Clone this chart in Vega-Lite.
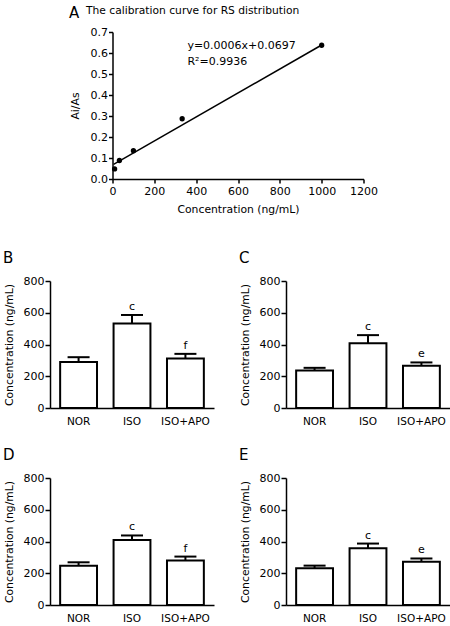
{
  "$schema": "https://vega.github.io/schema/vega-lite/v6.json",
  "padding": {"left": 3, "top": 5, "right": 2, "bottom": 2},
  "background": "white",
  "config": {
    "font": "DejaVu Sans",
    "view": {"stroke": null},
    "axis": {
      "domainColor": "black", "domainWidth": 1.5, "tickColor": "black", "tickWidth": 1.5, "tickSize": 4,
      "labelColor": "black", "titleColor": "black", "labelFont": "DejaVu Sans", "titleFont": "DejaVu Sans",
      "titleFontWeight": "normal", "grid": false, "labelFontSize": 11, "titleFontSize": 10.8, "labelOverlap": false, "labelFlush": false
    },
    "title": {"font": "DejaVu Sans", "fontWeight": "normal", "color": "black", "anchor": "start", "frame": "bounds", "fontSize": 15}
  },
  "datasets": {
    "cal": [
      {"conc": 10, "ratio": 0.048},
      {"conc": 33, "ratio": 0.088},
      {"conc": 100, "ratio": 0.135},
      {"conc": 333, "ratio": 0.287},
      {"conc": 1000, "ratio": 0.637}
    ],
    "fit": [
      {"conc": 5, "ratio": 0.07},
      {"conc": 1000, "ratio": 0.638}
    ],
    "eq": [
      {"conc": 358, "ratio": 0.619, "label": "y=0.0006x+0.0697"},
      {"conc": 358, "ratio": 0.543, "label": "R²=0.9936"}
    ],
    "bars": [
      {"panel": "B", "group": "NOR", "mean": 289, "err": 320, "sig": ""},
      {"panel": "B", "group": "ISO", "mean": 532, "err": 586, "sig": "c"},
      {"panel": "B", "group": "ISO+APO", "mean": 312, "err": 341, "sig": "f"},
      {"panel": "C", "group": "NOR", "mean": 237, "err": 253, "sig": ""},
      {"panel": "C", "group": "ISO", "mean": 408, "err": 459, "sig": "c"},
      {"panel": "C", "group": "ISO+APO", "mean": 266, "err": 287, "sig": "e"},
      {"panel": "D", "group": "NOR", "mean": 248, "err": 269, "sig": ""},
      {"panel": "D", "group": "ISO", "mean": 410, "err": 438, "sig": "c"},
      {"panel": "D", "group": "ISO+APO", "mean": 280, "err": 305, "sig": "f"},
      {"panel": "E", "group": "NOR", "mean": 232, "err": 248, "sig": ""},
      {"panel": "E", "group": "ISO", "mean": 358, "err": 387, "sig": "c"},
      {"panel": "E", "group": "ISO+APO", "mean": 272, "err": 293, "sig": "e"}
    ]
  },
  "center": true,
  "spacing": 37,
  "vconcat": [
    {
      "title": {"text": "A", "offset": -16},
      "spacing": 0,
      "hconcat": [
        {
          "width": 251, "height": 147,
          "title": {"text": "The calibration curve for RS distribution", "fontSize": 10.7, "dx": 17, "offset": 9},
          "encoding": {
            "x": {"field": "conc", "type": "quantitative", "title": "Concentration (ng/mL)", "scale": {"domain": [0, 1200], "nice": false}, "axis": {"values": [0, 200, 400, 600, 800, 1000, 1200], "format": "d", "labelPadding": 2, "titlePadding": 7}},
            "y": {"field": "ratio", "type": "quantitative", "title": "Ai/As", "scale": {"domain": [0, 0.7], "nice": false}, "axis": {"values": [0, 0.1, 0.2, 0.3, 0.4, 0.5, 0.6, 0.7], "format": ".1f", "labelPadding": 1, "titlePadding": 10}}
          },
          "layer": [
            {"data": {"name": "fit"}, "mark": {"type": "line", "color": "black", "strokeWidth": 1.5}},
            {"data": {"name": "cal"}, "mark": {"type": "point", "filled": true, "color": "black", "size": 28, "opacity": 1}},
            {"data": {"name": "eq"}, "mark": {"type": "text", "align": "left", "baseline": "alphabetic", "fontSize": 11, "color": "black"}, "encoding": {"text": {"field": "label"}}}
          ]
        },
        {"width": 10, "height": 147, "data": {"values": []}, "mark": "point"}
      ]
    },
    {
      "spacing": 21,
      "vconcat": [
        {
          "spacing": 25,
          "hconcat": [
            {
              "width": 164, "height": 127,
              "title": {"text": "B", "offset": 9},
              "data": {"name": "bars"},
              "transform": [{"filter": "datum.panel === 'B'"}],
              "encoding": {"x": {"field": "group", "type": "nominal", "sort": ["NOR", "ISO", "ISO+APO"], "title": null, "scale": {"paddingInner": 0.31, "paddingOuter": 0.19}, "axis": {"labelAngle": 0, "ticks": false, "labelFontSize": 10.5, "labelPadding": 8}}},
              "layer": [
                {"mark": {"type": "bar", "fill": "white", "stroke": "black", "strokeWidth": 2}, "encoding": {"y": {"field": "mean", "type": "quantitative", "title": "Concentration (ng/mL)", "scale": {"domain": [0, 800], "nice": false}, "axis": {"values": [0, 200, 400, 600, 800], "labelPadding": 1, "titlePadding": 9, "tickSize": 5}}}},
                {"mark": {"type": "rule", "color": "black", "strokeWidth": 2}, "encoding": {"y": {"field": "mean", "type": "quantitative", "title": "Concentration (ng/mL)", "axis": {"values": [0, 200, 400, 600, 800], "labelPadding": 1, "titlePadding": 9, "tickSize": 5}}, "y2": {"field": "err"}}},
                {"mark": {"type": "tick", "color": "black", "thickness": 2, "size": 22, "opacity": 1}, "encoding": {"y": {"field": "err", "type": "quantitative", "title": "Concentration (ng/mL)", "axis": {"values": [0, 200, 400, 600, 800], "labelPadding": 1, "titlePadding": 9, "tickSize": 5}}}},
                {"mark": {"type": "text", "baseline": "bottom", "dy": -3, "fontSize": 11, "color": "black"}, "encoding": {"y": {"field": "err", "type": "quantitative", "title": "Concentration (ng/mL)", "axis": {"values": [0, 200, 400, 600, 800], "labelPadding": 1, "titlePadding": 9, "tickSize": 5}}, "text": {"field": "sig"}}}
              ]
            },
            {
              "width": 164, "height": 127,
              "title": {"text": "C", "offset": 9},
              "data": {"name": "bars"},
              "transform": [{"filter": "datum.panel === 'C'"}],
              "encoding": {"x": {"field": "group", "type": "nominal", "sort": ["NOR", "ISO", "ISO+APO"], "title": null, "scale": {"paddingInner": 0.31, "paddingOuter": 0.19}, "axis": {"labelAngle": 0, "ticks": false, "labelFontSize": 10.5, "labelPadding": 8}}},
              "layer": [
                {"mark": {"type": "bar", "fill": "white", "stroke": "black", "strokeWidth": 2}, "encoding": {"y": {"field": "mean", "type": "quantitative", "title": "Concentration (ng/mL)", "scale": {"domain": [0, 800], "nice": false}, "axis": {"values": [0, 200, 400, 600, 800], "labelPadding": 1, "titlePadding": 9, "tickSize": 5}}}},
                {"mark": {"type": "rule", "color": "black", "strokeWidth": 2}, "encoding": {"y": {"field": "mean", "type": "quantitative", "title": "Concentration (ng/mL)", "axis": {"values": [0, 200, 400, 600, 800], "labelPadding": 1, "titlePadding": 9, "tickSize": 5}}, "y2": {"field": "err"}}},
                {"mark": {"type": "tick", "color": "black", "thickness": 2, "size": 22, "opacity": 1}, "encoding": {"y": {"field": "err", "type": "quantitative", "title": "Concentration (ng/mL)", "axis": {"values": [0, 200, 400, 600, 800], "labelPadding": 1, "titlePadding": 9, "tickSize": 5}}}},
                {"mark": {"type": "text", "baseline": "bottom", "dy": -3, "fontSize": 11, "color": "black"}, "encoding": {"y": {"field": "err", "type": "quantitative", "title": "Concentration (ng/mL)", "axis": {"values": [0, 200, 400, 600, 800], "labelPadding": 1, "titlePadding": 9, "tickSize": 5}}, "text": {"field": "sig"}}}
              ]
            }
          ]
        },
        {
          "spacing": 25,
          "hconcat": [
            {
              "width": 164, "height": 127,
              "title": {"text": "D", "offset": 9},
              "data": {"name": "bars"},
              "transform": [{"filter": "datum.panel === 'D'"}],
              "encoding": {"x": {"field": "group", "type": "nominal", "sort": ["NOR", "ISO", "ISO+APO"], "title": null, "scale": {"paddingInner": 0.31, "paddingOuter": 0.19}, "axis": {"labelAngle": 0, "ticks": false, "labelFontSize": 10.5, "labelPadding": 8}}},
              "layer": [
                {"mark": {"type": "bar", "fill": "white", "stroke": "black", "strokeWidth": 2}, "encoding": {"y": {"field": "mean", "type": "quantitative", "title": "Concentration (ng/mL)", "scale": {"domain": [0, 800], "nice": false}, "axis": {"values": [0, 200, 400, 600, 800], "labelPadding": 1, "titlePadding": 9, "tickSize": 5}}}},
                {"mark": {"type": "rule", "color": "black", "strokeWidth": 2}, "encoding": {"y": {"field": "mean", "type": "quantitative", "title": "Concentration (ng/mL)", "axis": {"values": [0, 200, 400, 600, 800], "labelPadding": 1, "titlePadding": 9, "tickSize": 5}}, "y2": {"field": "err"}}},
                {"mark": {"type": "tick", "color": "black", "thickness": 2, "size": 22, "opacity": 1}, "encoding": {"y": {"field": "err", "type": "quantitative", "title": "Concentration (ng/mL)", "axis": {"values": [0, 200, 400, 600, 800], "labelPadding": 1, "titlePadding": 9, "tickSize": 5}}}},
                {"mark": {"type": "text", "baseline": "bottom", "dy": -3, "fontSize": 11, "color": "black"}, "encoding": {"y": {"field": "err", "type": "quantitative", "title": "Concentration (ng/mL)", "axis": {"values": [0, 200, 400, 600, 800], "labelPadding": 1, "titlePadding": 9, "tickSize": 5}}, "text": {"field": "sig"}}}
              ]
            },
            {
              "width": 164, "height": 127,
              "title": {"text": "E", "offset": 9},
              "data": {"name": "bars"},
              "transform": [{"filter": "datum.panel === 'E'"}],
              "encoding": {"x": {"field": "group", "type": "nominal", "sort": ["NOR", "ISO", "ISO+APO"], "title": null, "scale": {"paddingInner": 0.31, "paddingOuter": 0.19}, "axis": {"labelAngle": 0, "ticks": false, "labelFontSize": 10.5, "labelPadding": 8}}},
              "layer": [
                {"mark": {"type": "bar", "fill": "white", "stroke": "black", "strokeWidth": 2}, "encoding": {"y": {"field": "mean", "type": "quantitative", "title": "Concentration (ng/mL)", "scale": {"domain": [0, 800], "nice": false}, "axis": {"values": [0, 200, 400, 600, 800], "labelPadding": 1, "titlePadding": 9, "tickSize": 5}}}},
                {"mark": {"type": "rule", "color": "black", "strokeWidth": 2}, "encoding": {"y": {"field": "mean", "type": "quantitative", "title": "Concentration (ng/mL)", "axis": {"values": [0, 200, 400, 600, 800], "labelPadding": 1, "titlePadding": 9, "tickSize": 5}}, "y2": {"field": "err"}}},
                {"mark": {"type": "tick", "color": "black", "thickness": 2, "size": 22, "opacity": 1}, "encoding": {"y": {"field": "err", "type": "quantitative", "title": "Concentration (ng/mL)", "axis": {"values": [0, 200, 400, 600, 800], "labelPadding": 1, "titlePadding": 9, "tickSize": 5}}}},
                {"mark": {"type": "text", "baseline": "bottom", "dy": -3, "fontSize": 11, "color": "black"}, "encoding": {"y": {"field": "err", "type": "quantitative", "title": "Concentration (ng/mL)", "axis": {"values": [0, 200, 400, 600, 800], "labelPadding": 1, "titlePadding": 9, "tickSize": 5}}, "text": {"field": "sig"}}}
              ]
            }
          ]
        }
      ]
    }
  ]
}
